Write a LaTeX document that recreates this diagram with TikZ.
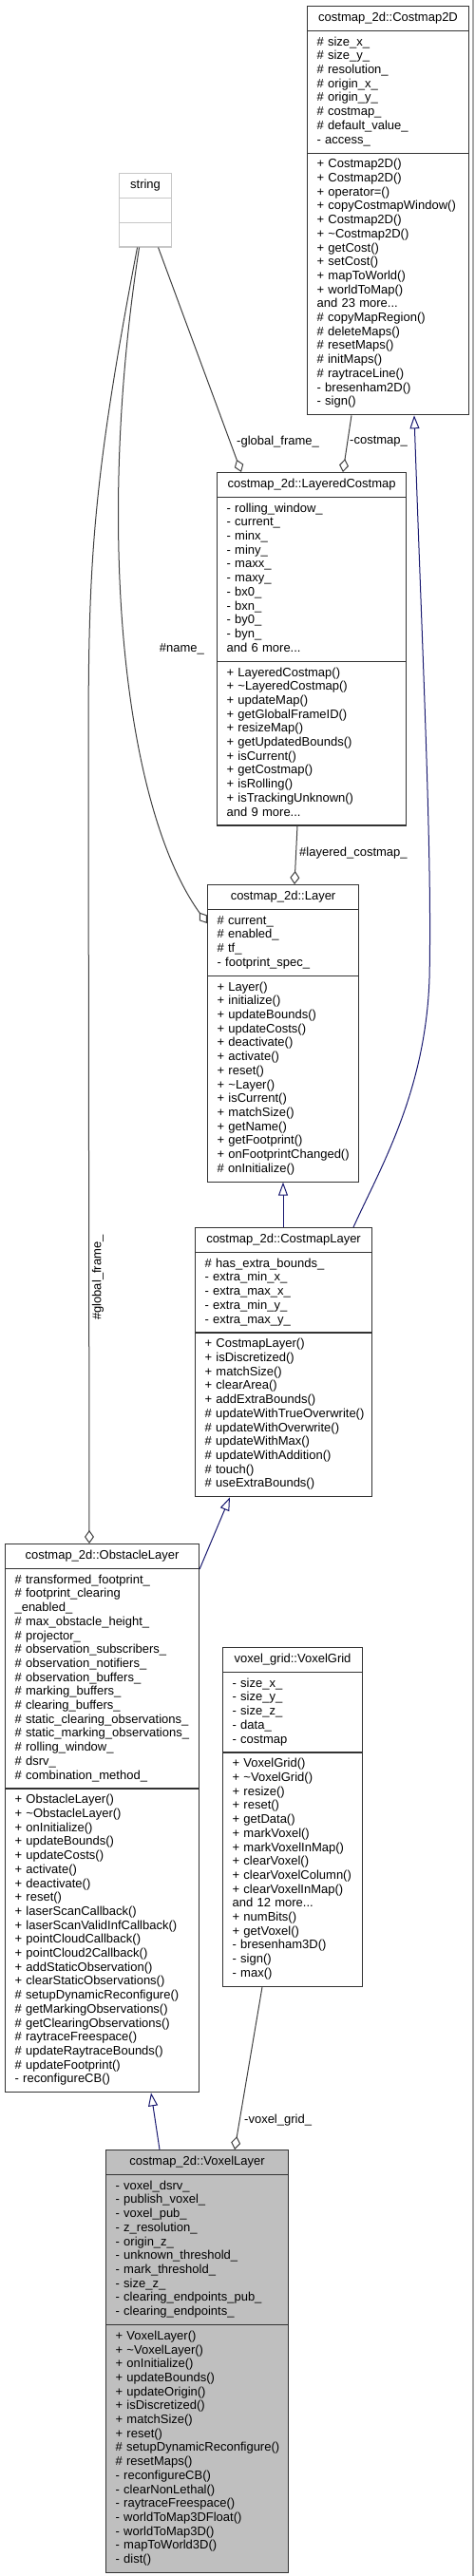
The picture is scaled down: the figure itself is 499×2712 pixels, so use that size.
\documentclass[tikz,border=0pt]{standalone}
\usepackage{fontspec}
\setmainfont{Liberation Sans}
\usetikzlibrary{shapes.multipart}
\usetikzlibrary{arrows.meta}
\usetikzlibrary{calc}

\hyphenpenalty=10000
\setlength{\parindent}{0pt}
\definecolor{inhblue}{RGB}{25,25,112}
\definecolor{usegray}{RGB}{64,64,64}
\newcommand{\ctitle}[1]{\strut\makebox[\hsize]{#1}\strut}
\newcommand{\cbody}[1]{\strut#1\strut}

\begin{document}
\begin{tikzpicture}[x=1pt, y=-1pt,
  font=\fontsize{13}{14.7}\selectfont,
  classbox/.style={rectangle split, rectangle split parts=3,
    draw=black!80, line width=1.1pt, fill=white,
    inner xsep=10pt, inner ysep=5pt, anchor=north west, align=left},
  inherit/.style={draw=inhblue, line width=1pt,
    -{Triangle[length=14pt,width=10pt,fill=white]}},
  aggr/.style={draw=usegray, line width=1pt,
    -{Diamond[length=14pt,width=10pt,fill=white]}},
  lbl/.style={inner sep=0pt, anchor=west}]

% white background
\useasboundingbox (0,0) rectangle (499,2712);
\fill[white] (0,0) rectangle (499,2712);
\draw[black!35, line width=1.5pt] (498,0) -- (498,2712);

% classes
\node[classbox, text width=150pt] (costmap) at (323,6)
  {\ctitle{costmap\_2d::Costmap2D}
   \nodepart{second}\cbody{\#~size\_x\_\\ \#~size\_y\_\\ \#~resolution\_\\
     \#~origin\_x\_\\ \#~origin\_y\_\\ \#~costmap\_\\ \#~default\_value\_\\ -~access\_}
   \nodepart{third}\cbody{+~Costmap2D()\\ +~Costmap2D()\\ +~operator=()\\
     +~copyCostmapWindow()\\ +~Costmap2D()\\ +~\textasciitilde Costmap2D()\\
     +~getCost()\\ +~setCost()\\ +~mapToWorld()\\ +~worldToMap()\\
     and 23 more...\\ \#~copyMapRegion()\\ \#~deleteMaps()\\ \#~resetMaps()\\
     \#~initMaps()\\ \#~raytraceLine()\\ -~bresenham2D()\\ -~sign()}};

\node[classbox, draw=black!22, text width=35pt] (str) at (125,182)
  {\ctitle{string}
   \nodepart{second}\strut
   \nodepart{third}\strut};

\node[classbox, text width=179pt] (layered) at (228,497)
  {\ctitle{costmap\_2d::LayeredCostmap}
   \nodepart{second}\cbody{-~rolling\_window\_\\ -~current\_\\ -~minx\_\\
     -~miny\_\\ -~maxx\_\\ -~maxy\_\\ -~bx0\_\\ -~bxn\_\\ -~by0\_\\ -~byn\_\\
     and 6 more...}
   \nodepart{third}\cbody{+~LayeredCostmap()\\ +~\textasciitilde LayeredCostmap()\\
     +~updateMap()\\ +~getGlobalFrameID()\\ +~resizeMap()\\ +~getUpdatedBounds()\\
     +~isCurrent()\\ +~getCostmap()\\ +~isRolling()\\ +~isTrackingUnknown()\\
     and 9 more...}};

\node[classbox, text width=139pt] (layer) at (218,931)
  {\ctitle{costmap\_2d::Layer}
   \nodepart{second}\cbody{\#~current\_\\ \#~enabled\_\\ \#~tf\_\\ -~footprint\_spec\_}
   \nodepart{third}\cbody{+~Layer()\\ +~initialize()\\ +~updateBounds()\\
     +~updateCosts()\\ +~deactivate()\\ +~activate()\\ +~reset()\\
     +~\textasciitilde Layer()\\ +~isCurrent()\\ +~matchSize()\\ +~getName()\\
     +~getFootprint()\\ +~onFootprintChanged()\\ \#~onInitialize()}};

\node[classbox, text width=166pt] (cmlayer) at (205,1292)
  {\ctitle{costmap\_2d::CostmapLayer}
   \nodepart{second}\cbody{\#~has\_extra\_bounds\_\\ -~extra\_min\_x\_\\
     -~extra\_max\_x\_\\ -~extra\_min\_y\_\\ -~extra\_max\_y\_}
   \nodepart{third}\cbody{+~CostmapLayer()\\ +~isDiscretized()\\ +~matchSize()\\
     +~clearArea()\\ +~addExtraBounds()\\ \#~updateWithTrueOverwrite()\\
     \#~updateWithOverwrite()\\ \#~updateWithMax()\\ \#~updateWithAddition()\\
     \#~touch()\\ \#~useExtraBounds()}};

\node[classbox, text width=184pt] (obstacle) at (5,1625)
  {\ctitle{costmap\_2d::ObstacleLayer}
   \nodepart{second}\cbody{\#~transformed\_footprint\_\\ \#~footprint\_clearing\\
     \_enabled\_\\ \#~max\_obstacle\_height\_\\ \#~projector\_\\
     \#~observation\_subscribers\_\\ \#~observation\_notifiers\_\\
     \#~observation\_buffers\_\\ \#~marking\_buffers\_\\ \#~clearing\_buffers\_\\
     \#~static\_clearing\_observations\_\\ \#~static\_marking\_observations\_\\
     \#~rolling\_window\_\\ \#~dsrv\_\\ \#~combination\_method\_}
   \nodepart{third}\cbody{+~ObstacleLayer()\\ +~\textasciitilde ObstacleLayer()\\
     +~onInitialize()\\ +~updateBounds()\\ +~updateCosts()\\ +~activate()\\
     +~deactivate()\\ +~reset()\\ +~laserScanCallback()\\
     +~laserScanValidInfCallback()\\ +~pointCloudCallback()\\
     +~pointCloud2Callback()\\ +~addStaticObservation()\\
     +~clearStaticObservations()\\ \#~setupDynamicReconfigure()\\
     \#~getMarkingObservations()\\ \#~getClearingObservations()\\
     \#~raytraceFreespace()\\ \#~updateRaytraceBounds()\\
     \#~updateFootprint()\\ -~reconfigureCB()}};

\node[classbox, text width=127pt] (vgrid) at (234,1734)
  {\ctitle{voxel\_grid::VoxelGrid}
   \nodepart{second}\cbody{-~size\_x\_\\ -~size\_y\_\\ -~size\_z\_\\ -~data\_\\ -~costmap}
   \nodepart{third}\cbody{+~VoxelGrid()\\ +~\textasciitilde VoxelGrid()\\ +~resize()\\
     +~reset()\\ +~getData()\\ +~markVoxel()\\ +~markVoxelInMap()\\
     +~clearVoxel()\\ +~clearVoxelColumn()\\ +~clearVoxelInMap()\\
     and 12 more...\\ +~numBits()\\ +~getVoxel()\\ -~bresenham3D()\\
     -~sign()\\ -~max()}};

\node[classbox, fill=black!25, text width=172pt] (voxel) at (111,2263)
  {\ctitle{costmap\_2d::VoxelLayer}
   \nodepart{second}\cbody{-~voxel\_dsrv\_\\ -~publish\_voxel\_\\ -~voxel\_pub\_\\
     -~z\_resolution\_\\ -~origin\_z\_\\ -~unknown\_threshold\_\\
     -~mark\_threshold\_\\ -~size\_z\_\\ -~clearing\_endpoints\_pub\_\\
     -~clearing\_endpoints\_}
   \nodepart{third}\cbody{+~VoxelLayer()\\ +~\textasciitilde VoxelLayer()\\
     +~onInitialize()\\ +~updateBounds()\\ +~updateOrigin()\\
     +~isDiscretized()\\ +~matchSize()\\ +~reset()\\
     \#~setupDynamicReconfigure()\\ \#~resetMaps()\\ -~reconfigureCB()\\
     -~clearNonLethal()\\ -~raytraceFreespace()\\ -~worldToMap3DFloat()\\
     -~worldToMap3D()\\ -~mapToWorld3D()\\ -~dist()}};

% usage relations
\draw[aggr] ($(str.south)+(13.5,0)$) -- ($(layered.north west)+(26,0)$);
\node[lbl] (lglobal) at (249,465) {-global\_frame\_};
\draw[aggr] ($(costmap.south west)+(47,0)$) -- ($(layered.north west)+(133,0)$);
\node[lbl] (lcostmap) at (368,465) {-costmap\_};
\draw[aggr] ($(layered.south west)+(85,0)$) -- ($(layer.north west)+(92,0)$);
\node[lbl] (llayered) at (315,898) {\#layered\_costmap\_};
\draw[aggr] ($(str.south)+(-6.5,0)$)
    .. controls (100,560) and (130,850) .. ($(layer.north west)+(0,41)$);
\node[lbl, anchor=east] (lname) at (215,683) {\#name\_};
\draw[aggr] ($(str.south)+(-8.5,0)$)
    .. controls (95,520) and (93,600) .. (93,800) -- ($(obstacle.north west)+(89,0)$);
\node[lbl, anchor=center, rotate=90] (lgframe) at (103,1345) {\#global\_frame\_};
\draw[aggr] ($(vgrid.south west)+(42,0)$) -- ($(voxel.north west)+(136,0)$);
\node[lbl] (lvgrid) at (257,2232) {-voxel\_grid\_};

% inheritance
\draw[inherit] ($(cmlayer.north west)+(167,0)$)
    .. controls (400,1230) and (448,1150) .. (452,1030)
    .. controls (455,900) and (445,700) .. ($(costmap.south west)+(113,0)$);
\draw[inherit] ($(cmlayer.north west)+(93,0)$) -- ($(layer.south west)+(80,0)$);
\draw[inherit] ($(obstacle.north east)+(0,27)$) -- ($(cmlayer.south west)+(37,0)$);
\draw[inherit] ($(voxel.north west)+(57,0)$) -- ($(obstacle.south west)+(154,0)$);

\end{tikzpicture}
\end{document}
